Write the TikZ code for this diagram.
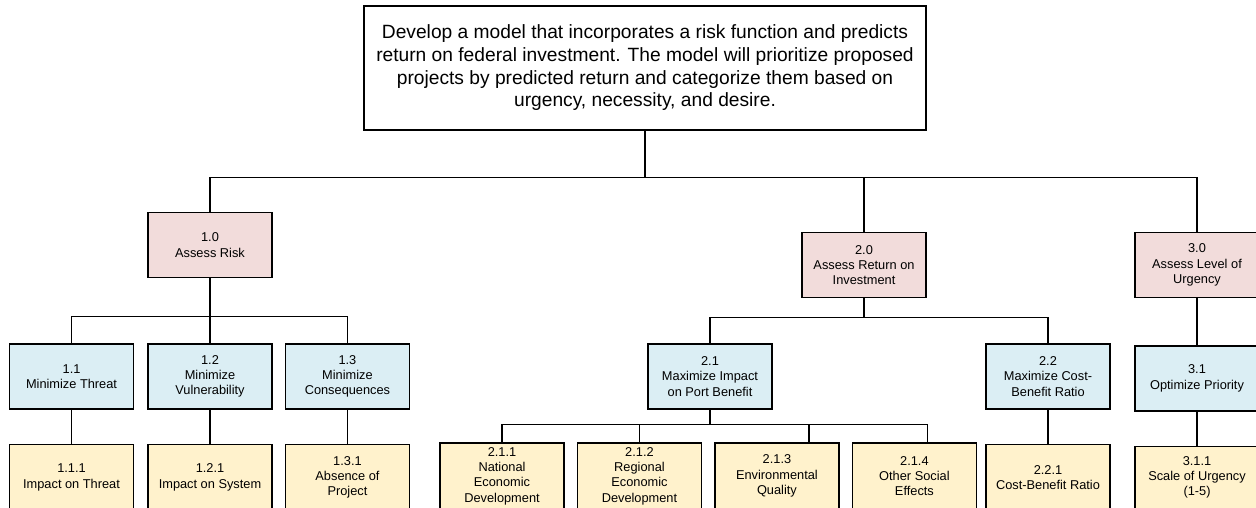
\documentclass[tikz,border=0pt]{standalone}
\usepackage{fontspec}
\setmainfont{Liberation Sans}
\usetikzlibrary{positioning}

\definecolor{riskfill}{RGB}{242,220,219}
\definecolor{objfill}{RGB}{219,238,244}
\definecolor{measfill}{RGB}{255,242,204}

\tikzset{
  goal/.style={draw, line width=1pt, minimum width=421.5pt, minimum height=93pt,
    inner sep=0pt, align=center, font=\fontsize{14.4}{17}\selectfont},
  box/.style={draw, line width=1.1pt, minimum width=93pt, minimum height=48.75pt,
    inner sep=0pt, align=center, font=\fontsize{9.6}{11.5}\selectfont},
  risk/.style={box, fill=riskfill},
  obj/.style={box, fill=objfill},
  meas/.style={box, fill=measfill, minimum height=49.5pt},
  link/.style={line width=0.9pt}
}

\begin{document}
\begin{tikzpicture}[x=0.75pt, y=-0.75pt, node distance=25.5pt and 9pt]

  \useasboundingbox (0,0) rectangle (1256,507);

  % Goal
  \node[goal] (g) at (645,68) {Develop a model that incorporates a risk function and predicts\\
    return on federal investment. The model will prioritize proposed\\
    projects by predicted return and categorize them based on\\
    urgency, necessity, and desire.};

  % Top level functions
  \node[risk] (a1) at (210,245)  {1.0\\Assess Risk};
  \node[risk] (a2) at (864,265)  {2.0\\Assess Return on\\Investment};
  \node[risk] (a3) at (1197,265) {3.0\\Assess Level of\\Urgency};

  % Objectives
  \node[obj, below=48.75pt of a1] (b12) {1.2\\Minimize\\Vulnerability};
  \node[obj, left=9.75pt of b12]  (b11) {1.1\\Minimize Threat};
  \node[obj, right=of b12]        (b13) {1.3\\Minimize\\Consequences};
  \node[obj] (b21) at (710,376.5)  {2.1\\Maximize Impact\\on Port Benefit};
  \node[obj] (b22) at (1048,376.5) {2.2\\Maximize Cost-\\Benefit Ratio};
  \node[obj, below=35.25pt of a3] (b31) {3.1\\Optimize Priority};

  % Measures
  \node[meas, below=of b11] (c111) {1.1.1\\Impact on Threat};
  \node[meas, below=of b12] (c121) {1.2.1\\Impact on System};
  \node[meas, below=of b13] (c131) {1.3.1\\Absence of\\Project};
  \node[meas] (c211) at (502,476) {2.1.1\\National\\Economic\\Development};
  \node[meas, right=of c211] (c212) {2.1.2\\Regional\\Economic\\Development};
  \node[meas, right=of c212] (c213) {2.1.3\\Environmental\\Quality};
  \node[meas, right=of c213] (c214) {2.1.4\\Other Social\\Effects};
  \node[meas, below=of b22] (c221) {2.2.1\\Cost-Benefit Ratio};
  \node[meas, below=of b31, minimum height=46.5pt] (c311) {3.1.1\\Scale of Urgency\\(1-5)};

  % Bus points
  \coordinate[below=35.25pt of g]  (gbus);
  \coordinate[below=28.5pt of a1]  (a1bus);
  \coordinate[below=14.25pt of a2] (a2bus);
  \coordinate[below=11.25pt of b21] (b21bus);

  % Goal to functions
  \draw[link] (g.south) -- (gbus);
  \draw[link] (gbus) -| (a1);
  \draw[link] (gbus) -| (a2);
  \draw[link] (gbus) -| (a3);

  % Functions to objectives
  \draw[link] (a1) -- (a1bus);
  \draw[link] (a1bus) -| (b11);
  \draw[link] (a1bus) -| (b12);
  \draw[link] (a1bus) -| (b13);
  \draw[link] (a2) -- (a2bus);
  \draw[link] (a2bus) -| (b21);
  \draw[link] (a2bus) -| (b22);
  \draw[link] (a3) -- (b31);

  % Objectives to measures
  \draw[link] (b11) -- (c111);
  \draw[link] (b12) -- (c121);
  \draw[link] (b13) -- (c131);
  \draw[link] (b21) -- (b21bus);
  \draw[link] (b21bus) -| (c211);
  \draw[link] (b21bus) -| (c212);
  \draw[link] (b21bus) -| ([xshift=24pt]c213.north);
  \draw[link] (b21bus) -| ([xshift=9.75pt]c214.north);
  \draw[link] (b22) -- (c221);
  \draw[link] (b31) -- (c311);

\end{tikzpicture}
\end{document}
